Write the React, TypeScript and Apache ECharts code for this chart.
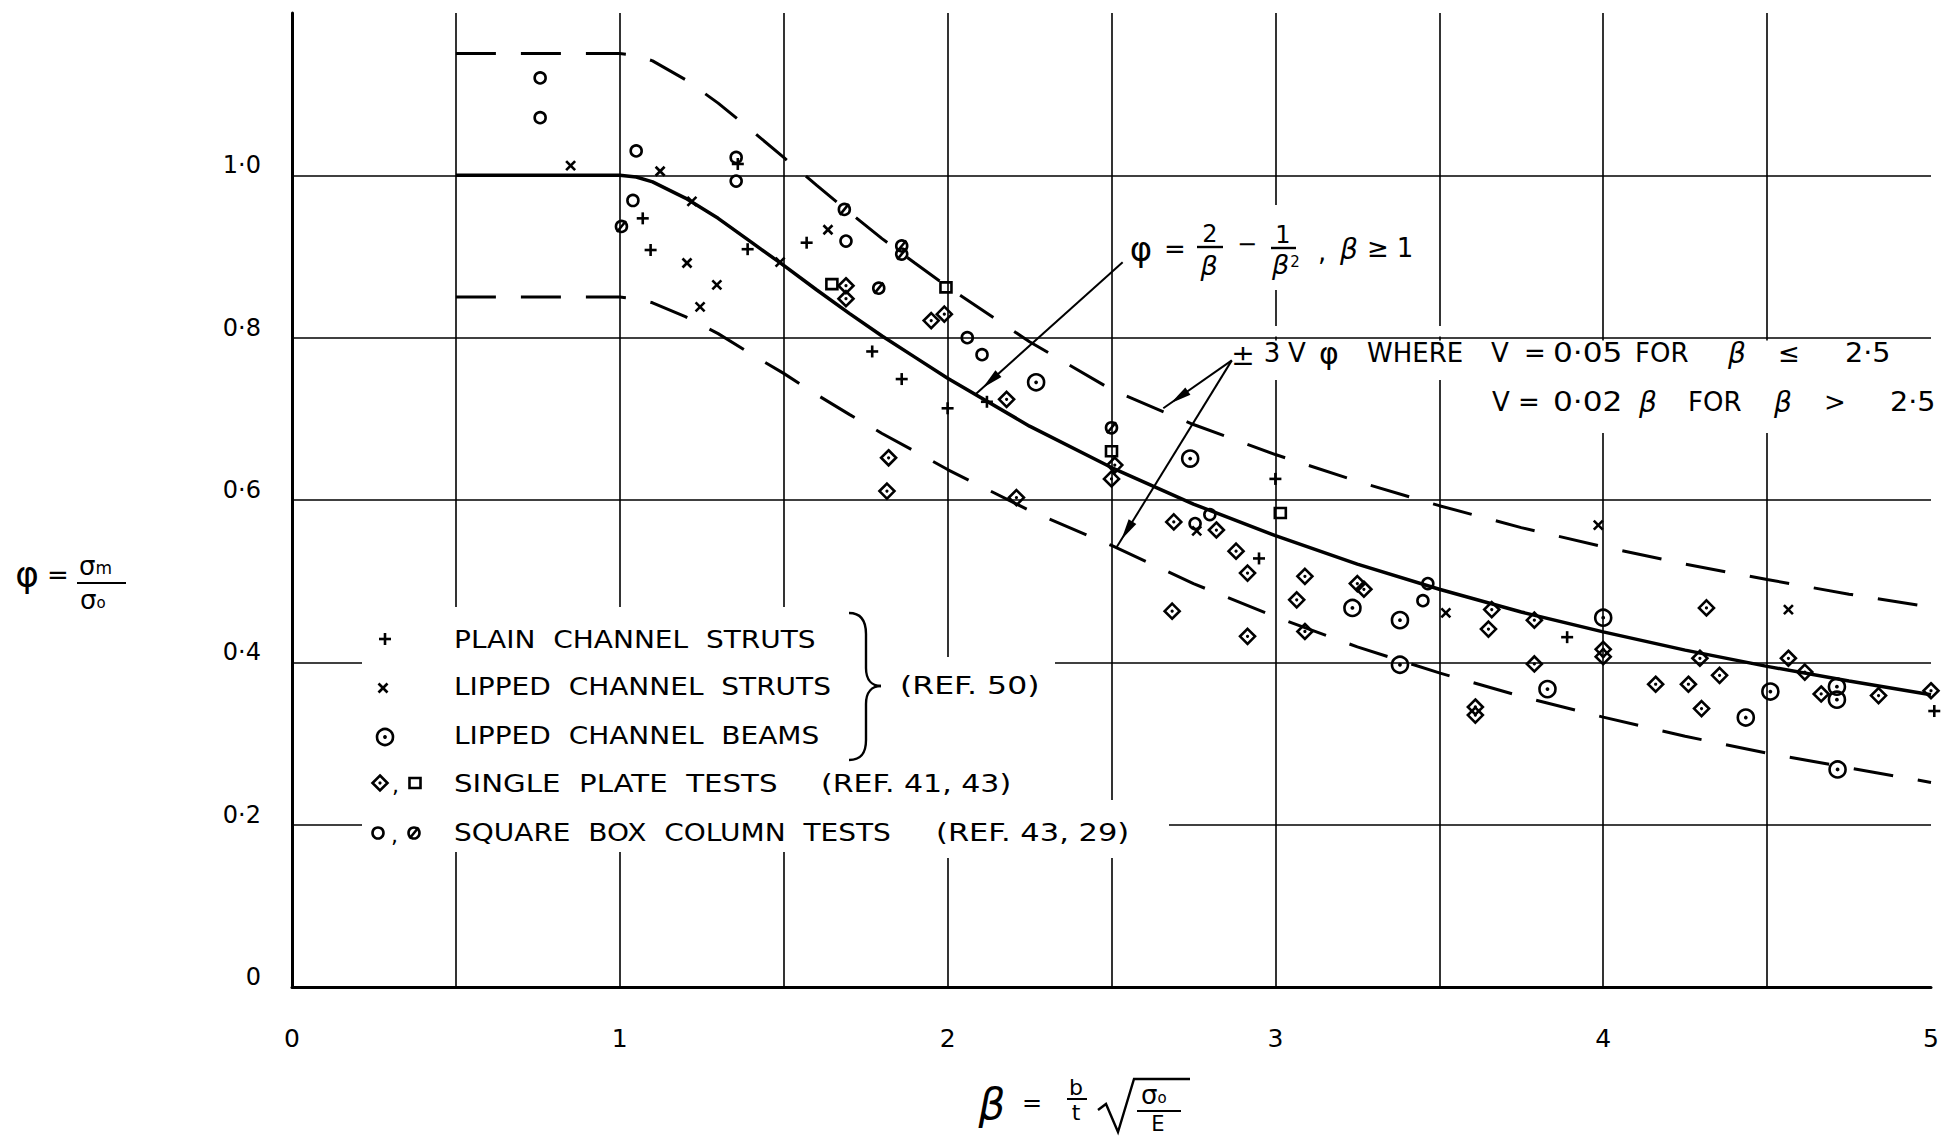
import React, { useEffect, useRef } from "react";
import * as echarts from "echarts";

const FONT = '"DejaVu Sans", "Noto Sans", sans-serif';

// ---- tick labels ----
const xTickValues = [0, 1, 2, 3, 4, 5];
const xTickLabels = ["0", "1", "2", "3", "4", "5"];
const yTickValues = [0, 0.2, 0.4, 0.6, 0.8, 1.0];
const yTickLabels = ["0", "0·2", "0·4", "0·6", "0·8", "1·0"];

// ---- curves: [beta, phi] ----
const meanCurve: [number, number][] = [
  [0.5, 1.0], [0.75, 1.0], [1.0, 1.0], [1.05, 0.998], [1.1, 0.992], [1.2, 0.972], [1.3, 0.947],
  [1.4, 0.918], [1.5, 0.889], [1.6, 0.859], [1.7, 0.83], [1.8, 0.802], [1.9, 0.776], [2.0, 0.75],
  [2.25, 0.691], [2.5, 0.64], [2.75, 0.595], [3.0, 0.556], [3.25, 0.521], [3.5, 0.49],
  [3.75, 0.462], [4.0, 0.4375], [4.25, 0.415], [4.5, 0.395], [4.75, 0.377], [5.0, 0.36],
];
const upperBand: [number, number][] = [
  [0.5, 1.15], [0.75, 1.15], [1.0, 1.15], [1.05, 1.148], [1.1, 1.141], [1.2, 1.118], [1.3, 1.089],
  [1.4, 1.056], [1.5, 1.022], [1.6, 0.988], [1.7, 0.9545], [1.8, 0.922], [1.9, 0.892], [2.0, 0.8625],
  [2.25, 0.795], [2.5, 0.736], [2.75, 0.693], [3.0, 0.656], [3.25, 0.623], [3.5, 0.593],
  [3.75, 0.566], [4.0, 0.5425], [4.25, 0.521], [4.5, 0.502], [4.75, 0.484], [5.0, 0.468],
];
const lowerBand: [number, number][] = [
  [0.5, 0.85], [0.75, 0.85], [1.0, 0.85], [1.05, 0.848], [1.1, 0.843], [1.2, 0.826], [1.3, 0.805],
  [1.4, 0.78], [1.5, 0.756], [1.6, 0.73], [1.7, 0.7055], [1.8, 0.682], [1.9, 0.66], [2.0, 0.6375],
  [2.25, 0.587], [2.5, 0.544], [2.75, 0.497], [3.0, 0.456], [3.25, 0.419], [3.5, 0.387],
  [3.75, 0.358], [4.0, 0.3325], [4.25, 0.309], [4.5, 0.288], [4.75, 0.27], [5.0, 0.252],
];

// ---- test points: [beta, phi] ----
const plainStruts: [number, number][] = [
  [1.07, 0.947], [1.094, 0.908], [1.36, 1.014], [1.39, 0.909], [1.57, 0.917], [1.77, 0.783],
  [1.86, 0.749], [2.0, 0.713], [2.12, 0.721], [2.95, 0.528], [3.0, 0.626], [3.89, 0.431], [5.01, 0.34],
];
const lippedStruts: [number, number][] = [
  [0.85, 1.012], [1.123, 1.005], [1.22, 0.968], [1.205, 0.892], [1.296, 0.865], [1.245, 0.838],
  [1.489, 0.893], [1.635, 0.933], [2.76, 0.562], [3.52, 0.461], [3.985, 0.569], [4.565, 0.465],
];
const lippedBeams: [number, number][] = [
  [2.27, 0.745], [2.74, 0.651], [3.235, 0.467], [3.38, 0.452], [3.38, 0.397], [3.83, 0.367],
  [4.0, 0.455], [4.435, 0.332], [4.51, 0.364], [4.713, 0.37], [4.713, 0.354], [4.715, 0.268],
];
const plateDiamonds: [number, number][] = [
  [1.69, 0.864], [1.69, 0.848], [1.95, 0.821], [1.99, 0.829], [1.82, 0.652], [1.815, 0.611],
  [2.21, 0.603], [2.18, 0.724], [2.51, 0.643], [2.5, 0.626], [2.69, 0.573], [2.82, 0.563],
  [2.88, 0.537], [2.915, 0.51], [3.09, 0.506], [3.065, 0.477], [3.25, 0.497], [3.27, 0.49],
  [2.685, 0.463], [2.915, 0.432], [3.09, 0.438], [3.66, 0.465], [3.65, 0.441], [3.79, 0.452],
  [3.79, 0.398], [3.61, 0.345], [3.61, 0.335], [4.0, 0.416], [4.0, 0.407], [4.315, 0.467],
  [4.295, 0.405], [4.355, 0.384], [4.16, 0.373], [4.26, 0.373], [4.3, 0.343], [4.565, 0.405],
  [4.615, 0.388], [4.665, 0.361], [4.84, 0.359], [5.0, 0.365],
];
const plateSquares: [number, number][] = [
  [1.647, 0.866], [1.995, 0.862], [2.5, 0.66], [3.015, 0.584],
];
const boxCircles: [number, number][] = [
  [0.757, 1.12], [0.757, 1.071], [1.05, 1.03], [1.04, 0.969], [1.355, 1.022], [1.355, 0.993],
  [1.69, 0.919], [2.06, 0.8], [2.105, 0.779], [2.8, 0.582], [2.755, 0.571], [3.465, 0.497], [3.45, 0.476],
];
const boxSlashed: [number, number][] = [
  [1.005, 0.937], [1.685, 0.958], [1.86, 0.913], [1.86, 0.903], [1.79, 0.861], [2.5, 0.689],
];

// annotation leader lines: [beta1, phi1, beta2, phi2]
const leaderLines: number[][] = [
  [2.534, 0.893, 2.087, 0.731],
  [2.867, 0.772, 2.658, 0.713],
  [2.867, 0.772, 2.516, 0.542],
];

const legendLabels = [
  "PLAIN  CHANNEL  STRUTS",
  "LIPPED  CHANNEL  STRUTS",
  "LIPPED  CHANNEL  BEAMS",
  "SINGLE  PLATE  TESTS",
  "SQUARE  BOX  COLUMN  TESTS",
];
const refLabels = ["(REF. 50)", "(REF. 41, 43)", "(REF. 43, 29)"];

// ---------------------------------------------------------------
const LW = 2.6;
function ln(x1: number, y1: number, x2: number, y2: number, w = LW, z = 0): any {
  return { type: "line", z, shape: { x1, y1, x2, y2 }, style: { stroke: "#000", lineWidth: w } };
}
function markShapes(kind: string, x: number, y: number, z = 0): any[] {
  const st = { stroke: "#000", lineWidth: LW, fill: "none" };
  const dot = (r: number) => ({ type: "circle", z, shape: { cx: x, cy: y, r }, style: { fill: "#000" } });
  switch (kind) {
    case "plus":
      return [ln(x - 6, y, x + 6, y, LW, z), ln(x, y - 6, x, y + 6, LW, z)];
    case "cross":
      return [ln(x - 4.5, y - 4.5, x + 4.5, y + 4.5, LW, z), ln(x - 4.5, y + 4.5, x + 4.5, y - 4.5, LW, z)];
    case "circleDot":
      return [{ type: "circle", z, shape: { cx: x, cy: y, r: 8 }, style: st }, dot(1.9)];
    case "diamondDot":
      return [
        { type: "polygon", z, shape: { points: [[x, y - 7.5], [x + 7.5, y], [x, y + 7.5], [x - 7.5, y]] }, style: st },
        dot(1.6),
      ];
    case "square":
      return [{ type: "rect", z, shape: { x: x - 5.5, y: y - 5, width: 11, height: 10 }, style: st }];
    case "circle":
      return [{ type: "circle", z, shape: { cx: x, cy: y, r: 5.5 }, style: st }];
    case "slashCircle":
      return [{ type: "circle", z, shape: { cx: x, cy: y, r: 5.5 }, style: st }, ln(x - 4.5, y + 5.5, x + 4.5, y - 5.5, LW, z)];
  }
  return [];
}

function pointSeries(name: string, data: [number, number][], kind: string): any {
  return {
    type: "custom",
    name,
    data,
    clip: false,
    silent: true,
    z: 4,
    renderItem: (_p: any, api: any) => {
      const c = api.coord([api.value(0), api.value(1)]);
      return { type: "group", children: markShapes(kind, c[0], c[1]) };
    },
  };
}

function txt(text: string, x: number, y: number, o: any = {}): any {
  const align = o.align || "left";
  const size = o.size || 26;
  const style: any = {
    text,
    fill: "#000",
    fontSize: size,
    fontFamily: FONT,
    fontStyle: o.italic ? "italic" : "normal",
    lineHeight: o.lineHeight || size,
    align,
    textAlign: align,
    verticalAlign: "middle",
    textVerticalAlign: "middle",
  };
  if (o.rich) style.rich = o.rich;
  return { type: "text", x, y, z: 10, scaleX: o.scaleX || 1, style };
}
function whiteRect(x: number, y: number, w: number, h: number): any {
  return { type: "rect", z: 1, shape: { x, y, width: w, height: h }, style: { fill: "#fff" } };
}
function bez(x1: number, y1: number, cpx1: number, cpy1: number, cpx2: number, cpy2: number, x2: number, y2: number): any {
  return {
    type: "bezierCurve",
    z: 10,
    shape: { x1, y1, x2, y2, cpx1, cpy1, cpx2, cpy2 },
    style: { stroke: "#000", lineWidth: 2.4, fill: "none" },
  };
}

function buildGraphic(): any[] {
  const g: any[] = [];
  // white areas where the original grid is interrupted by lettering
  g.push(whiteRect(362, 607, 543, 245));
  g.push(whiteRect(905, 657, 150, 103));
  g.push(whiteRect(905, 760, 115, 40));
  g.push(whiteRect(905, 800, 264, 58));
  g.push(whiteRect(1125, 205, 290, 85));
  g.push(whiteRect(1228, 326, 242, 10.5));
  g.push(whiteRect(1228, 340.5, 667, 39.5));
  g.push(whiteRect(1485, 380, 455, 53));

  // legend
  const rowY = [639, 686, 735, 783, 832];
  markShapes("plus", 385, rowY[0], 10).forEach((e) => g.push(e));
  markShapes("cross", 383, rowY[1] + 2, 10).forEach((e) => g.push(e));
  markShapes("circleDot", 385, rowY[2] + 2, 10).forEach((e) => g.push(e));
  markShapes("diamondDot", 380, rowY[3], 10).forEach((e) => g.push(e));
  g.push(txt(",", 392, rowY[3] + 2, { size: 22 }));
  markShapes("square", 415, rowY[3], 10).forEach((e) => g.push(e));
  markShapes("circle", 378, rowY[4] + 1, 10).forEach((e) => g.push(e));
  g.push(txt(",", 391, rowY[4] + 3, { size: 22 }));
  markShapes("slashCircle", 414, rowY[4] + 1, 10).forEach((e) => g.push(e));
  const legendScale = [1.12, 1.12, 1.12, 1.17, 1.12];
  legendLabels.forEach((l, i) => g.push(txt(l, 454, rowY[i], { size: 25, scaleX: legendScale[i] })));
  // brace
  g.push(bez(849, 613, 862, 613, 866, 622, 866, 634));
  g.push(ln(866, 634, 866, 668, 2.4, 10));
  g.push(bez(866, 668, 866, 680, 872, 686, 881, 686));
  g.push(bez(881, 686, 872, 686, 866, 692, 866, 704));
  g.push(ln(866, 704, 866, 740, 2.4, 10));
  g.push(bez(866, 740, 866, 752, 862, 760, 849, 760));
  g.push(txt(refLabels[0], 900, rowY[1], { size: 25, scaleX: 1.26 }));
  g.push(txt(refLabels[1], 821, rowY[3], { size: 25, scaleX: 1.2 }));
  g.push(txt(refLabels[2], 936, rowY[4], { size: 25, scaleX: 1.22 }));

  // formula annotation: phi = 2/beta - 1/beta^2 , beta >= 1
  g.push(txt("φ", 1141, 249, { size: 34, align: "center" }));
  g.push(txt("=", 1175, 249, { size: 26, align: "center" }));
  g.push(txt("2", 1210, 234, { size: 24, align: "center" }));
  g.push(ln(1197, 247, 1223, 247, 2.4, 10));
  g.push(txt("β", 1209, 265, { size: 27, align: "center", italic: true }));
  g.push(txt("−", 1247, 244, { size: 24, align: "center" }));
  g.push(txt("1", 1283, 235, { size: 24, align: "center" }));
  g.push(ln(1271, 248, 1296, 248, 2.4, 10));
  g.push(
    txt("{b|β}{s|2}", 1272, 264, {
      size: 27,
      rich: {
        b: { fontSize: 27, fontStyle: "italic", fontFamily: FONT, fill: "#000", lineHeight: 27 },
        s: { fontSize: 15, fontFamily: FONT, fill: "#000", lineHeight: 27, verticalAlign: "middle", padding: [0, 0, 4, 1] },
      },
    })
  );
  g.push(txt(",", 1322, 252, { size: 26, align: "center" }));
  g.push(txt("β", 1349, 249, { size: 28, align: "center", italic: true }));
  g.push(txt("≥", 1378, 248, { size: 26, align: "center" }));
  g.push(txt("1", 1405, 248, { size: 26, align: "center" }));

  // +/- 3 V phi  WHERE ...
  const y1 = 353;
  g.push(txt("±", 1243, 355, { size: 28, align: "center" }));
  g.push(txt("3", 1272, y1, { size: 26, align: "center" }));
  g.push(txt("V", 1297, y1, { size: 26, align: "center" }));
  g.push(txt("φ", 1329, y1, { size: 30, align: "center" }));
  g.push(txt("WHERE", 1367, y1, { size: 26 }));
  g.push(txt("V", 1491, y1, { size: 26 }));
  g.push(txt("=", 1535, y1, { size: 26, align: "center" }));
  g.push(txt("0·05", 1553, y1, { size: 26, scaleX: 1.2 }));
  g.push(txt("FOR", 1635, y1, { size: 26 }));
  g.push(txt("β", 1728, y1, { size: 28, italic: true }));
  g.push(txt("≤", 1789, y1, { size: 26, align: "center" }));
  g.push(txt("2·5", 1845, y1, { size: 26, scaleX: 1.1 }));
  const y2 = 402;
  g.push(txt("V", 1492, y2, { size: 26 }));
  g.push(txt("=", 1529, y2, { size: 26, align: "center" }));
  g.push(txt("0·02", 1553, y2, { size: 26, scaleX: 1.2 }));
  g.push(txt("β", 1639, y2, { size: 28, italic: true }));
  g.push(txt("FOR", 1688, y2, { size: 26 }));
  g.push(txt("β", 1774, y2, { size: 28, italic: true }));
  g.push(txt(">", 1835, y2, { size: 26, align: "center" }));
  g.push(txt("2·5", 1890, y2, { size: 26, scaleX: 1.1 }));

  // y axis title: phi = sigma_m / sigma_o
  const subRich = (main: number, sub: number) => ({
    a: { fontSize: main, fontFamily: FONT, fill: "#000", lineHeight: 20 },
    b: { fontSize: sub, fontFamily: FONT, fill: "#000", lineHeight: 20, verticalAlign: "bottom" },
  });
  g.push(txt("φ", 27, 574, { size: 36, align: "center" }));
  g.push(txt("=", 58, 575, { size: 26, align: "center" }));
  g.push(txt("{a|σ}{b|m}", 79, 566, { size: 26, lineHeight: 20, rich: subRich(26, 17) }));
  g.push(ln(77, 583, 126, 583, 2.2, 10));
  g.push(txt("{a|σ}{b|o}", 80, 600, { size: 26, lineHeight: 20, rich: subRich(26, 15) }));

  // x axis title: beta = b/t sqrt(sigma_o / E)
  g.push(txt("β", 992, 1104, { size: 42, align: "center", italic: true }));
  g.push(txt("=", 1032, 1103, { size: 24, align: "center" }));
  g.push(txt("b", 1076, 1087, { size: 22, align: "center" }));
  g.push(ln(1067, 1099, 1087, 1099, 2, 10));
  g.push(txt("t", 1076, 1112, { size: 22, align: "center" }));
  g.push({
    type: "polyline",
    z: 10,
    shape: { points: [[1098, 1110], [1106, 1104], [1118, 1132], [1134, 1079], [1190, 1079]] },
    style: { stroke: "#000", lineWidth: 2.4, fill: "none" },
  });
  g.push(txt("{a|σ}{b|o}", 1141, 1095, { size: 26, lineHeight: 20, rich: subRich(26, 15) }));
  g.push(ln(1137, 1111, 1181, 1111, 2.2, 10));
  g.push(txt("E", 1158, 1124, { size: 21, align: "center" }));
  return g;
}

function buildOption(): any {
  const curve = (name: string, data: [number, number][], dashed: boolean) => ({
    type: "line",
    name,
    data,
    showSymbol: false,
    smooth: false,
    silent: true,
    z: 3,
    lineStyle: { color: "#000", width: dashed ? 3 : 3.5, type: dashed ? [40, 25] : "solid" },
  });
  return {
    animation: false,
    backgroundColor: "#fff",
    grid: { left: 292, right: 13, top: 13, bottom: 152 },
    xAxis: {
      type: "value",
      min: 0,
      max: 5,
      interval: 0.5,
      axisLine: { show: true, onZero: false, lineStyle: { color: "#000", width: 3 } },
      axisTick: { show: false },
      splitLine: { show: true, showMaxLine: false, lineStyle: { color: "#000", width: 1.6 } },
      axisLabel: {
        color: "#000",
        fontSize: 25,
        fontFamily: FONT,
        margin: 39,
        formatter: (v: number) => {
          const i = xTickValues.findIndex((t) => Math.abs(t - v) < 1e-6);
          return i >= 0 ? xTickLabels[i] : "";
        },
      },
    },
    yAxis: {
      type: "value",
      min: 0,
      max: 1.2,
      interval: 0.2,
      axisLine: { show: true, onZero: false, lineStyle: { color: "#000", width: 3 } },
      axisTick: { show: false },
      splitLine: { show: true, showMaxLine: false, lineStyle: { color: "#000", width: 1.6 } },
      axisLabel: {
        color: "#000",
        fontSize: 24,
        fontFamily: FONT,
        margin: 31,
        lineHeight: 20,
        verticalAlign: "bottom",
        formatter: (v: number) => {
          const i = yTickValues.findIndex((t) => Math.abs(t - v) < 1e-6);
          return i >= 0 ? yTickLabels[i] : "";
        },
      },
    },
    graphic: { elements: buildGraphic() },
    series: [
      curve("phi = 2/beta - 1/beta^2", meanCurve, false),
      curve("upper +3V phi", upperBand, true),
      curve("lower -3V phi", lowerBand, true),
      {
        type: "custom",
        name: "leaders",
        data: leaderLines,
        encode: { x: [0, 2], y: [1, 3] },
        clip: false,
        silent: true,
        z: 5,
        renderItem: (_p: any, api: any) => {
          const a = api.coord([api.value(0), api.value(1)]);
          const b = api.coord([api.value(2), api.value(3)]);
          const dx = b[0] - a[0];
          const dy = b[1] - a[1];
          const L = Math.sqrt(dx * dx + dy * dy);
          const ux = dx / L;
          const uy = dy / L;
          const nx = -uy;
          const ny = ux;
          const tip = [b[0] - ux * 9, b[1] - uy * 9];
          const base = [b[0] - ux * 30, b[1] - uy * 30];
          return {
            type: "group",
            children: [
              { type: "line", shape: { x1: a[0], y1: a[1], x2: b[0], y2: b[1] }, style: { stroke: "#000", lineWidth: 2 } },
              {
                type: "polygon",
                shape: {
                  points: [tip, [base[0] + nx * 4.5, base[1] + ny * 4.5], [base[0] - nx * 4.5, base[1] - ny * 4.5]],
                },
                style: { fill: "#000" },
              },
            ],
          };
        },
      },
      pointSeries("PLAIN CHANNEL STRUTS", plainStruts, "plus"),
      pointSeries("LIPPED CHANNEL STRUTS", lippedStruts, "cross"),
      pointSeries("LIPPED CHANNEL BEAMS", lippedBeams, "circleDot"),
      pointSeries("SINGLE PLATE TESTS (diamond)", plateDiamonds, "diamondDot"),
      pointSeries("SINGLE PLATE TESTS (square)", plateSquares, "square"),
      pointSeries("SQUARE BOX COLUMN TESTS (circle)", boxCircles, "circle"),
      pointSeries("SQUARE BOX COLUMN TESTS (slashed)", boxSlashed, "slashCircle"),
    ],
  };
}

export default function App() {
  const ref = useRef<HTMLDivElement>(null);
  useEffect(() => {
    if (!ref.current) return;
    const chart = echarts.init(ref.current, null, { renderer: "svg" });
    chart.setOption(buildOption());
    return () => chart.dispose();
  }, []);
  return (
    <div
      ref={ref}
      style={{ position: "absolute", left: 0, top: 0, width: 1944, height: 1139, background: "#fff" }}
    />
  );
}
